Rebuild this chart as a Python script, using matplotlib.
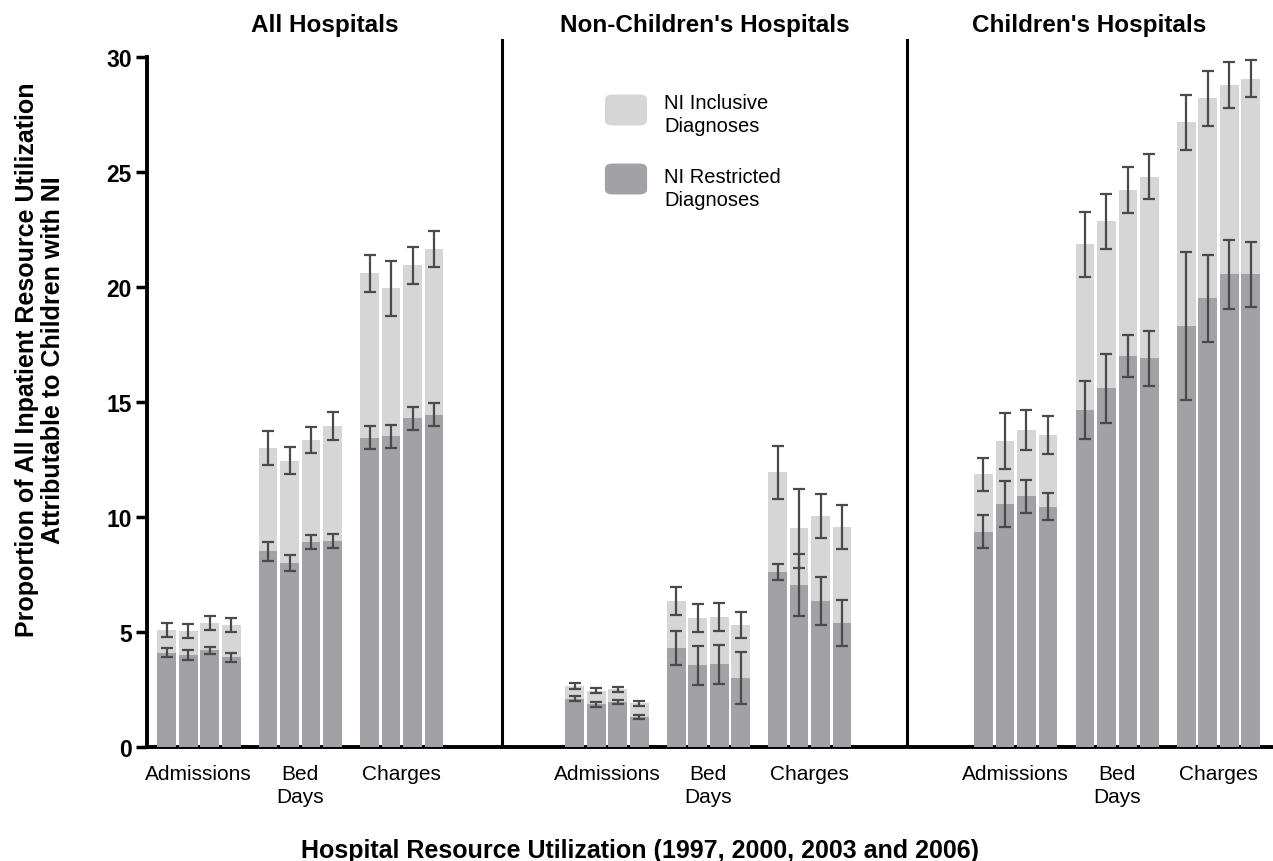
import numpy as np
import matplotlib.pyplot as plt
from matplotlib.patches import FancyBboxPatch

plt.rcParams['font.family'] = ['Liberation Sans', 'DejaVu Sans']

panels = ["All Hospitals", "Non-Children's Hospitals", "Children's Hospitals"]
measures = ["Admissions", "Bed\nDays", "Charges"]
years = [1997, 2000, 2003, 2006]

# values per panel: [measure][year]
incl_all = [[5.1, 5.05, 5.4, 5.3], [13.0, 12.45, 13.35, 13.95], [20.6, 19.95, 20.95, 21.65]]
incl_all_err = [[0.3, 0.3, 0.3, 0.3], [0.75, 0.6, 0.55, 0.6], [0.8, 1.2, 0.8, 0.8]]
restr_all = [[4.1, 4.0, 4.2, 3.9], [8.5, 8.0, 8.9, 8.95], [13.45, 13.5, 14.3, 14.45]]
restr_all_err = [[0.2, 0.2, 0.15, 0.2], [0.4, 0.35, 0.3, 0.3], [0.5, 0.5, 0.5, 0.5]]

incl_non = [[2.65, 2.45, 2.5, 1.9], [6.35, 5.6, 5.65, 5.3], [11.95, 9.5, 10.05, 9.55]]
incl_non_err = [[0.12, 0.12, 0.12, 0.1], [0.6, 0.6, 0.6, 0.55], [1.15, 1.7, 0.95, 0.95]]
restr_non = [[2.1, 1.85, 1.95, 1.3], [4.3, 3.55, 3.6, 3.0], [7.6, 7.05, 6.35, 5.4]]
restr_non_err = [[0.1, 0.1, 0.1, 0.08], [0.75, 0.85, 0.85, 1.15], [0.35, 1.35, 1.05, 1.0]]

incl_ch = [[11.85, 13.3, 13.8, 13.55], [21.85, 22.85, 24.2, 24.8], [27.15, 28.2, 28.8, 29.05]]
incl_ch_err = [[0.72, 1.2, 0.87, 0.82], [1.4, 1.2, 1.0, 0.97], [1.2, 1.2, 1.0, 0.8]]
restr_ch = [[9.35, 10.55, 10.9, 10.45], [14.65, 15.6, 17.0, 16.9], [18.3, 19.5, 20.55, 20.55]]
restr_ch_err = [[0.72, 1.0, 0.72, 0.6], [1.27, 1.5, 0.9, 1.2], [3.2, 1.9, 1.5, 1.4]]

incl = [incl_all, incl_non, incl_ch]
incl_err = [incl_all_err, incl_non_err, incl_ch_err]
restr = [restr_all, restr_non, restr_ch]
restr_err = [restr_all_err, restr_non_err, restr_ch_err]

c_incl = '#d6d6d6'
c_restr = '#a1a1a6'
c_err = '#4a4a4a'

W, H = 1273, 862
fig = plt.figure(figsize=(W / 100, H / 100), dpi=100)
ax = fig.add_axes([147 / W, 1 - 748 / H, (1272 - 147) / W, (748 - 40) / H])

offsets = [0.0, 18.98, 38.0]
dividers = [16.51, 35.35]
group_step = 4.72
w = 0.88

for p in range(3):
    for m in range(3):
        x = offsets[p] + 0.91 + m * group_step + np.arange(4)
        ax.bar(x, incl[p][m], width=w, color=c_incl, zorder=2)
        ax.errorbar(x, incl[p][m], yerr=incl_err[p][m], fmt='none', ecolor=c_err,
                    elinewidth=1.6, capsize=4, capthick=1.6, zorder=4)
        ax.bar(x, restr[p][m], width=w, color=c_restr, zorder=3)
        ax.errorbar(x, restr[p][m], yerr=restr_err[p][m], fmt='none', ecolor=c_err,
                    elinewidth=1.6, capsize=4, capthick=1.6, zorder=4)
        ax.text(x.mean(), -0.75, measures[m], ha='center', va='top', fontsize=15,
                linespacing=1.25, clip_on=False)
    if p == 0:
        cx = (0 + dividers[0]) / 2
    elif p == 1:
        cx = (dividers[0] + dividers[1]) / 2
    else:
        cx = (dividers[1] + 52.33) / 2
    ax.text(cx, 31.43, panels[p], ha='center', va='center', fontsize=17.5,
            fontweight='bold', clip_on=False)

for d in dividers:
    ax.axvline(d, color='black', lw=2.2, zorder=1)

ax.set_xlim(0, 52.33)
ax.set_ylim(0, 30.78)
ax.set_xticks([])
ax.set_yticks([0, 5, 10, 15, 20, 25, 30])
ax.tick_params(axis='y', direction='out', length=8, width=2.5, labelsize=16.5, pad=3)
for lab in ax.get_yticklabels():
    lab.set_fontweight('bold')
for s in ['top', 'right']:
    ax.spines[s].set_visible(False)
ax.spines['left'].set_linewidth(2.8)
ax.spines['left'].set_bounds(0, 30)
ax.spines['bottom'].set_linewidth(2.8)

fig.text(40 / W, 1 - 360 / H,
         "Proportion of All Inpatient Resource Utilization\nAttributable to Children with NI",
         rotation=90, ha='center', va='center', multialignment='center',
         fontsize=18, fontweight='bold', linespacing=1.1)
fig.text(640 / W, 1 - 851 / H, "Hospital Resource Utilization (1997, 2000, 2003 and 2006)",
         ha='center', va='center', fontsize=18, fontweight='bold')

# legend drawn by hand: rounded swatches + labels
leg_items = [(c_incl, "NI Inclusive\nDiagnoses", 111, 115),
             (c_restr, "NI Restricted\nDiagnoses", 180, 189)]
for col, lab, py_patch, py_text in leg_items:
    box = FancyBboxPatch((610 / W, 1 - (py_patch + 12) / H), 32 / W, 24 / H,
                         boxstyle="round,pad=0.004,rounding_size=0.006",
                         transform=fig.transFigure, facecolor=col, edgecolor='none')
    fig.patches.append(box)
    fig.text(664 / W, 1 - py_text / H, lab, ha='left', va='center', fontsize=14.5,
             linespacing=1.3)

fig.savefig('out.png', dpi=100)
